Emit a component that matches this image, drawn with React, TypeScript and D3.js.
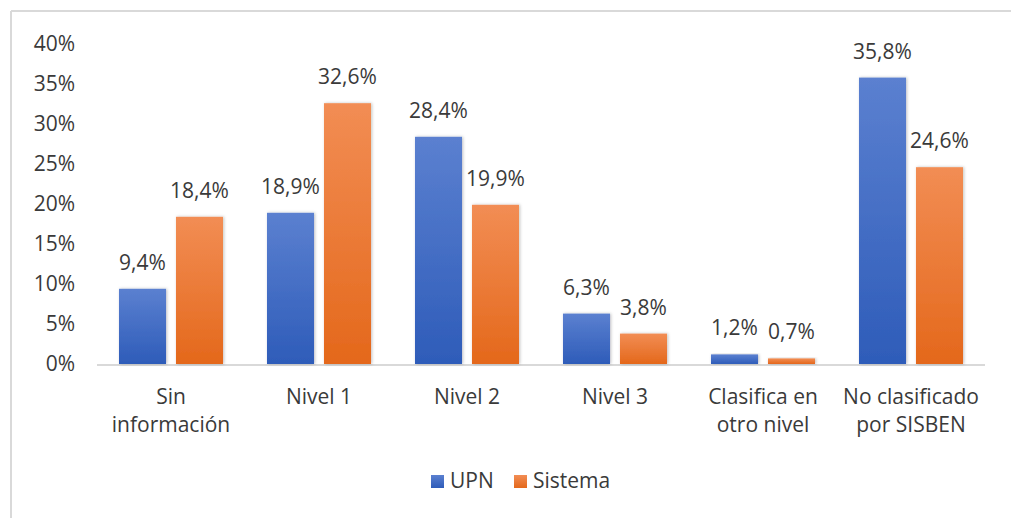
import React, { useEffect, useRef } from 'react';
import * as d3 from 'd3';

const categories = [
  ['Sin', 'información'],
  ['Nivel 1'],
  ['Nivel 2'],
  ['Nivel 3'],
  ['Clasifica en', 'otro nivel'],
  ['No clasificado', 'por SISBEN'],
];
const series = ['UPN', 'Sistema'];
const upnValues = [9.4, 18.9, 28.4, 6.3, 1.2, 35.8];
const sistemaValues = [18.4, 32.6, 19.9, 3.8, 0.7, 24.6];
const yTicks = [0, 5, 10, 15, 20, 25, 30, 35, 40];

const W = 1011;
const H = 518;
const FONT = '"Open Sans", sans-serif';
const TEXT = '#3a3a3a';
const FS = '21px';

const App = () => {
  const svgRef = useRef<SVGSVGElement>(null);

  useEffect(() => {
    const svg = d3.select(svgRef.current);
    svg.selectAll('*').remove();

    const margin = { top: 44, right: 26, bottom: 154, left: 97 };
    const plotBottom = H - margin.bottom;

    const defs = svg.append('defs');
    const grads = [
      { id: 'g-upn', top: '#5b80d0', bottom: '#2e5cb9' },
      { id: 'g-sis', top: '#f28d54', bottom: '#e4681b' },
    ];
    grads.forEach(g => {
      const lg = defs.append('linearGradient')
        .attr('id', g.id)
        .attr('x1', 0).attr('y1', 0).attr('x2', 0).attr('y2', 1);
      lg.append('stop').attr('offset', '0%').attr('stop-color', g.top);
      lg.append('stop').attr('offset', '100%').attr('stop-color', g.bottom);
    });
    const shadow = defs.append('filter').attr('id', 'shadow')
      .attr('x', '-20%').attr('y', '-10%').attr('width', '140%').attr('height', '120%');
    shadow.append('feDropShadow')
      .attr('dx', 1).attr('dy', 0).attr('stdDeviation', 1.5)
      .attr('flood-color', '#000').attr('flood-opacity', 0.25);

    // Frame (only top and left visible in crop)
    svg.append('line').attr('x1', 11).attr('y1', 11).attr('x2', W).attr('y2', 11)
      .style('stroke', '#d9d9d9').style('stroke-width', 2);
    svg.append('line').attr('x1', 11).attr('y1', 11).attr('x2', 11).attr('y2', H)
      .style('stroke', '#d9d9d9').style('stroke-width', 2);

    const x0 = d3.scaleBand<number>()
      .domain(d3.range(categories.length))
      .range([margin.left, W - margin.right]);

    const x1 = d3.scaleBand<string>()
      .domain(series)
      .range([0, x0.bandwidth()])
      .paddingInner(0.175)
      .paddingOuter(0.386);

    const y = d3.scaleLinear()
      .domain([0, 40])
      .range([plotBottom, margin.top]);

    // Y tick labels
    svg.append('g').selectAll('text')
      .data(yTicks)
      .enter()
      .append('text')
      .attr('x', 75)
      .attr('y', d => y(d))
      .attr('dy', '0.35em')
      .attr('text-anchor', 'end')
      .text(d => `${d}%`)
      .style('font-family', FONT)
      .style('font-size', FS)
      .style('fill', TEXT);

    // Baseline
    svg.append('line')
      .attr('x1', margin.left).attr('x2', W - margin.right)
      .attr('y1', y(0) + 1).attr('y2', y(0) + 1)
      .style('stroke', '#d9d9d9').style('stroke-width', 2);

    const rows = categories.map((c, i) => ({ i, vals: [upnValues[i], sistemaValues[i]] }));

    const groups = svg.append('g').selectAll('g')
      .data(rows)
      .enter()
      .append('g')
      .attr('transform', d => `translate(${x0(d.i)},0)`);

    groups.selectAll('rect')
      .data(d => d.vals.map((v, k) => ({ key: series[k], v })))
      .enter()
      .append('rect')
      .attr('x', d => x1(d.key)!)
      .attr('y', d => y(d.v))
      .attr('width', x1.bandwidth())
      .attr('height', d => y(0) - y(d.v))
      .attr('filter', 'url(#shadow)')
      .style('fill', d => d.key === 'UPN' ? 'url(#g-upn)' : 'url(#g-sis)');

    groups.selectAll('text.val')
      .data(d => d.vals.map((v, k) => ({ key: series[k], v })))
      .enter()
      .append('text')
      .attr('class', 'val')
      .attr('x', d => x1(d.key)! + x1.bandwidth() / 2)
      .attr('y', d => y(d.v) - 19)
      .attr('text-anchor', 'middle')
      .text(d => `${d.v.toFixed(1).replace('.', ',')}%`)
      .style('font-family', FONT)
      .style('font-size', FS)
      .style('fill', TEXT);

    // Category labels
    categories.forEach((lines, i) => {
      const t = svg.append('text')
        .attr('x', x0(i)! + x0.bandwidth() / 2)
        .attr('y', 404)
        .attr('text-anchor', 'middle')
        .style('font-family', FONT)
        .style('font-size', FS)
        .style('fill', TEXT);
      lines.forEach((l, j) => {
        t.append('tspan')
          .attr('x', x0(i)! + x0.bandwidth() / 2)
          .attr('dy', j === 0 ? 0 : 28)
          .text(l);
      });
    });

    // Legend
    const legend = [
      { name: 'UPN', fill: 'url(#g-upn)', x: 431 },
      { name: 'Sistema', fill: 'url(#g-sis)', x: 514 },
    ];
    legend.forEach(l => {
      svg.append('rect')
        .attr('x', l.x).attr('y', 475)
        .attr('width', 13).attr('height', 13)
        .style('fill', l.fill);
      svg.append('text')
        .attr('x', l.x + 19).attr('y', 488)
        .text(l.name)
        .style('font-family', FONT)
        .style('font-size', FS)
        .style('fill', TEXT);
    });
  }, []);

  return (
    <svg
      ref={svgRef}
      width={W}
      height={H}
      style={{ position: 'absolute', left: 0, top: 0, background: '#fff' }}
    />
  );
};

export default App;
